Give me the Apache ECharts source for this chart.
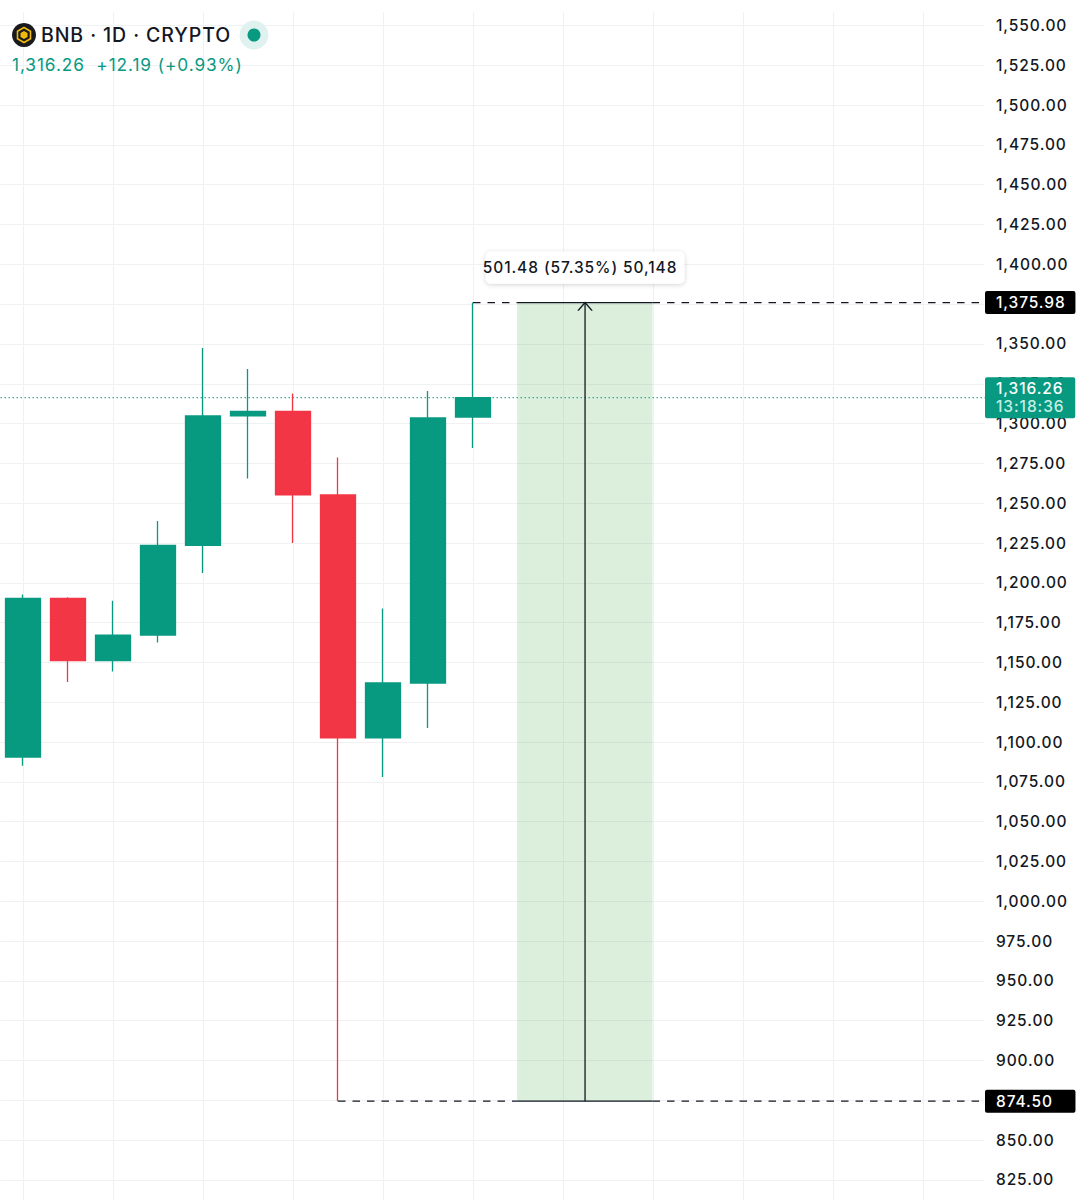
<!DOCTYPE html>
<html>
<head>
    <meta charset="UTF-8">
    <title>BNB 1D</title>
    <style>
        html, body { margin: 0; padding: 0; background: #fff; }
        /* the chart font in the reference is set wider than Inter */
        #main svg text { letter-spacing: 0.9px; }
    </style>
</head>
<body>
<div id="main" style="width:1081px; height:1200px;"></div>

<script type="text/javascript" src="https://cdn.jsdelivr.net/npm/echarts@6/dist/echarts.min.js"></script>
<script type="text/javascript">

    // daily candles
    var categories = ['1','2','3','4','5','6','7','8','9','10','11','12','13','14','15','16','17','18','19','20','21','22'];
    var opens  = [1090.6, 1190.2, 1151.1, 1167.2, 1223.5, 1304.8, 1307.6, 1255.2, 1102.6, 1137.1, 1304.07];
    var closes = [1190.2, 1151.1, 1167.2, 1223.5, 1304.8, 1307.7, 1255.2, 1102.6, 1137.1, 1303.5, 1316.26];
    var lows   = [1085.2, 1137.7, 1144.3, 1162.5, 1206.2, 1265.5, 1225.0, 874.5, 1078.1, 1108.8, 1284.7];
    var highs  = [1192.6, 1191.0, 1188.8, 1238.8, 1347.5, 1334.3, 1318.9, 1278.7, 1183.9, 1320.5, 1375.98];

    // price range tool
    var rangeHigh = 1375.98;
    var rangeLow = 874.5;
    var lastPrice = 1316.26;
    var countdown = '13:18:36';
    var rangeLabel = '501.48 (57.35%) 50,148';
    var headerTitle = 'BNB · 1D · CRYPTO';
    var headerQuote = '1,316.26  +12.19 (+0.93%)';

    // bar positions on the hidden value axis
    var rangeLeft = 10.98, rangeMid = 12.49, rangeRight = 13.99, plotEnd = 21.378;
    var highStart = 10, lowStart = 7;

    var UP = '#089981', DOWN = '#F23645', INK = '#131722';
    var FONT = 'Inter, "Noto Sans", sans-serif';

    function money(v) {
        return v.toLocaleString('en-US', { minimumFractionDigits: 2, maximumFractionDigits: 2 });
    }

    var candles = opens.map(function (o, i) {
        return [o, closes[i], lows[i], highs[i]];
    });

    function flatLine(name, price, from, to, dashed) {
        return {
            name: name,
            type: 'line',
            xAxisIndex: 1,
            symbol: 'none',
            silent: true,
            z: 4,
            lineStyle: { color: INK, width: 1.3, type: dashed ? [7.5, 7] : 'solid' },
            data: [[from, price], [to, price]]
        };
    }

    var myChart = echarts.init(document.getElementById('main'), null, { renderer: 'svg' });

    var option = {
        animation: false,
        backgroundColor: '#ffffff',
        textStyle: { fontFamily: FONT },
        title: [
            { text: headerTitle, left: 36, top: 20, textStyle: { fontFamily: FONT, fontSize: 19.5, fontWeight: 500, color: INK } },
            { text: headerQuote, left: 7, top: 51, textStyle: { fontFamily: FONT, fontSize: 17.3, fontWeight: 400, color: UP } }
        ],
        grid: { left: 0.5, top: -14.31, width: 990, height: 1234.1, outerBoundsMode: 'none' },
        xAxis: [
            {
                type: 'category',
                data: categories,
                axisLine: { show: false },
                axisTick: { show: false },
                axisLabel: { show: false },
                splitLine: { show: true, interval: 1, alignWithLabel: true, lineStyle: { color: '#f0f1f3', width: 1 } }
            },
            { type: 'value', show: false, min: -0.5, max: 21.5, splitLine: { show: false } }
        ],
        yAxis: {
            type: 'value',
            position: 'right',
            min: 800,
            max: 1575,
            interval: 25,
            axisLine: { show: false },
            axisTick: { show: false },
            splitLine: { lineStyle: { color: '#f0f1f3', width: 1 } },
            axisLabel: {
                margin: 5.5,
                align: 'left',
                fontFamily: FONT,
                fontSize: 15.5,
                fontWeight: 500,
                color: INK,
                formatter: money
            }
        },
        graphic: [
            // grid stops short of the price scale and of the header
            { type: 'rect', z: 1, shape: { x: 984.5, y: 0, width: 7, height: 1200 }, style: { fill: '#fff' } },
            { type: 'rect', z: 1, shape: { x: 0, y: 0, width: 991, height: 12 }, style: { fill: '#fff' } },
            // symbol logo
            { type: 'circle', z: 10, shape: { cx: 24, cy: 35, r: 12 }, style: { fill: '#181a20' } },
            { type: 'polygon', z: 11, shape: { points: [[24, 27.5], [30.5, 31.2], [30.5, 38.8], [24, 42.5], [17.5, 38.8], [17.5, 31.2]] }, style: { fill: 'none', stroke: '#F0B90B', lineWidth: 1.6 } },
            { type: 'polygon', z: 11, shape: { points: [[24, 31], [27.5, 33], [27.5, 37], [24, 39], [20.5, 37], [20.5, 33]] }, style: { fill: '#F0B90B' } },
            // market status
            { type: 'circle', z: 10, shape: { cx: 254, cy: 35, r: 14.5 }, style: { fill: '#e0f2ef' } },
            { type: 'circle', z: 11, shape: { cx: 254, cy: 35, r: 6.5 }, style: { fill: UP } }
        ],
        series: [
            {
                name: 'BNB',
                type: 'candlestick',
                barWidth: 35.5,
                z: 3,
                itemStyle: { color: UP, color0: DOWN, borderColor: UP, borderColor0: DOWN, borderWidth: 1.3 },
                data: candles
            },
            {
                name: 'range area',
                type: 'line',
                xAxisIndex: 1,
                symbol: 'none',
                silent: true,
                z: 2,
                lineStyle: { width: 0 },
                data: [],
                markArea: {
                    silent: true,
                    itemStyle: { color: 'rgba(76,175,80,0.2)' },
                    data: [[{ coord: [rangeLeft, rangeHigh] }, { coord: [rangeRight, rangeLow] }]]
                }
            },
            {
                name: 'last price',
                type: 'line',
                xAxisIndex: 1,
                symbol: 'none',
                silent: true,
                z: 2,
                lineStyle: { color: UP, width: 1, type: [1.5, 2.5] },
                data: [[-0.5, lastPrice], [plotEnd, lastPrice]],
                endLabel: {
                    show: true,
                    distance: 0,
                    align: 'left',
                    backgroundColor: UP,
                    borderRadius: 2,
                    padding: [2, 18, 2, 11],
                    formatter: function () {
                        return '{p|' + money(lastPrice) + '}\n{t|' + countdown + '}';
                    },
                    rich: {
                        p: { fontFamily: FONT, fontSize: 15.5, fontWeight: 500, color: '#ffffff', lineHeight: 18.5 },
                        t: { fontFamily: FONT, fontSize: 15.5, fontWeight: 500, color: '#c6efe4', lineHeight: 18.5 }
                    }
                }
            },
            flatLine('high left', rangeHigh, highStart, rangeLeft, true),
            flatLine('high mid', rangeHigh, rangeLeft, rangeRight, false),
            Object.assign(flatLine('high right', rangeHigh, rangeRight, plotEnd, true), {
                endLabel: {
                    show: true, distance: 0, formatter: function () { return money(rangeHigh); },
                    backgroundColor: '#000000', color: '#ffffff', borderRadius: 2,
                    padding: [4, 17, 4, 11], fontFamily: FONT, fontSize: 15.5, fontWeight: 500, lineHeight: 15
                }
            }),
            flatLine('low left', rangeLow, lowStart, rangeLeft, true),
            flatLine('low mid', rangeLow, rangeLeft, rangeRight, false),
            Object.assign(flatLine('low right', rangeLow, rangeRight, plotEnd, true), {
                endLabel: {
                    show: true, distance: 0, formatter: function () { return money(rangeLow); },
                    backgroundColor: '#000000', color: '#ffffff', borderRadius: 2,
                    padding: [4, 28, 4, 11], fontFamily: FONT, fontSize: 15.5, fontWeight: 500, lineHeight: 15
                }
            }),
            {
                name: 'range arrow',
                type: 'line',
                xAxisIndex: 1,
                silent: true,
                z: 5,
                showSymbol: true,
                lineStyle: { color: INK, width: 1.3 },
                itemStyle: { color: 'none', borderColor: INK, borderWidth: 1.3 },
                data: [
                    { value: [rangeMid, rangeLow], symbol: 'none' },
                    {
                        value: [rangeMid, rangeHigh],
                        symbol: 'path://M0 8 L7 0 L14 8',
                        symbolSize: [14, 8],
                        symbolOffset: [0, 4],
                        label: {
                            show: true,
                            position: 'top',
                            distance: 17,
                            formatter: rangeLabel,
                            fontFamily: FONT,
                            fontSize: 15.5,
                            fontWeight: 500,
                            color: INK,
                            backgroundColor: '#ffffff',
                            borderRadius: 5,
                            padding: [8, 17, 8, 7],
                            shadowColor: 'rgba(0,0,0,0.18)',
                            shadowBlur: 5,
                            shadowOffsetY: 1
                        }
                    }
                ]
            }
        ]
    };

    myChart.setOption(option);

</script>
</body>
</html>
